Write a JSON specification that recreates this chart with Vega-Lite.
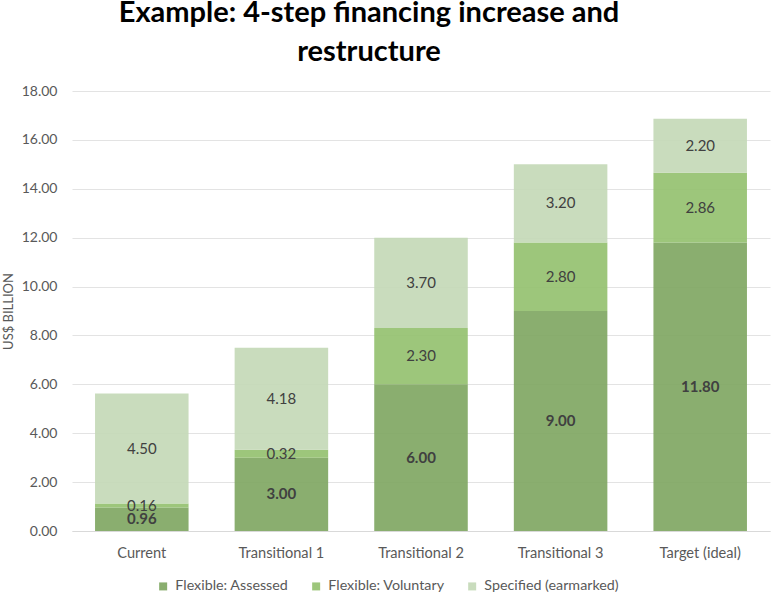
{
  "$schema": "https://vega.github.io/schema/vega-lite/v6.json",
  "width": 698,
  "height": 440,
  "autosize": {"type": "none"},
  "padding": {"left": 72, "top": 91, "right": 8, "bottom": 63},
  "background": "white",
  "config": {"view": {"stroke": null}},
  "title": {
    "text": ["Example: 4-step financing increase and", "restructure"],
    "font": "Lato",
    "fontSize": 29,
    "fontWeight": "bold",
    "color": "#000000",
    "anchor": "middle",
    "dx": -52,
    "offset": 17,
    "lineHeight": 39
  },
  "data": {
    "values": [
      {"category": "Current", "type": "Flexible: Assessed", "k": 1, "value": 0.96},
      {"category": "Current", "type": "Flexible: Voluntary", "k": 2, "value": 0.16},
      {"category": "Current", "type": "Specified (earmarked)", "k": 3, "value": 4.50},
      {"category": "Transitional 1", "type": "Flexible: Assessed", "k": 1, "value": 3.00},
      {"category": "Transitional 1", "type": "Flexible: Voluntary", "k": 2, "value": 0.32},
      {"category": "Transitional 1", "type": "Specified (earmarked)", "k": 3, "value": 4.18},
      {"category": "Transitional 2", "type": "Flexible: Assessed", "k": 1, "value": 6.00},
      {"category": "Transitional 2", "type": "Flexible: Voluntary", "k": 2, "value": 2.30},
      {"category": "Transitional 2", "type": "Specified (earmarked)", "k": 3, "value": 3.70},
      {"category": "Transitional 3", "type": "Flexible: Assessed", "k": 1, "value": 9.00},
      {"category": "Transitional 3", "type": "Flexible: Voluntary", "k": 2, "value": 2.80},
      {"category": "Transitional 3", "type": "Specified (earmarked)", "k": 3, "value": 3.20},
      {"category": "Target (ideal)", "type": "Flexible: Assessed", "k": 1, "value": 11.80},
      {"category": "Target (ideal)", "type": "Flexible: Voluntary", "k": 2, "value": 2.86},
      {"category": "Target (ideal)", "type": "Specified (earmarked)", "k": 3, "value": 2.20}
    ]
  },
  "encoding": {
    "x": {
      "field": "category",
      "type": "nominal",
      "sort": ["Current", "Transitional 1", "Transitional 2", "Transitional 3", "Target (ideal)"],
      "scale": {"paddingInner": 0.33, "paddingOuter": 0.165},
      "axis": {
        "title": null,
        "labelAngle": 0,
        "labelFont": "Lato",
        "labelFontSize": 14.6,
        "labelColor": "#595959",
        "labelPadding": 14,
        "ticks": false,
        "domainColor": "#d9d9d9",
        "domainWidth": 1
      }
    },
    "y": {
      "field": "value",
      "type": "quantitative",
      "stack": "zero",
      "scale": {"domain": [0, 18], "nice": false},
      "axis": {
        "title": "US$ BILLION",
        "titleFont": "Lato",
        "titleFontSize": 13,
        "titleFontWeight": "normal",
        "titleColor": "#595959",
        "titleX": -64,
        "titleBaseline": "middle",
        "values": [0, 2, 4, 6, 8, 10, 12, 14, 16, 18],
        "format": ".2f",
        "labelFont": "Lato",
        "labelFontSize": 14,
        "labelColor": "#595959",
        "labelPadding": 15,
        "ticks": false,
        "domain": false,
        "gridColor": "#e3e3e3",
        "gridWidth": 1
      }
    },
    "order": {"field": "k", "type": "quantitative"}
  },
  "layer": [
    {
      "mark": {"type": "bar", "opacity": 0.9},
      "encoding": {
        "color": {
          "field": "type",
          "type": "nominal",
          "scale": {
            "domain": ["Flexible: Assessed", "Flexible: Voluntary", "Specified (earmarked)"],
            "range": ["#7DA55F", "#92C06D", "#C3D8B6"]
          },
          "legend": {
            "title": null,
            "orient": "none",
            "direction": "horizontal",
            "legendX": 84,
            "legendY": 488,
            "symbolType": "square",
            "symbolSize": 64,
            "symbolStrokeWidth": 0,
            "labelFont": "Lato",
            "labelFontSize": 14.3,
            "labelColor": "#595959",
            "columnPadding": 20,
            "labelOffset": 5
          }
        }
      }
    },
    {
      "mark": {"type": "text", "font": "Lato", "fontSize": 15, "color": "#404040", "baseline": "middle", "fontWeight": "bold"},
      "encoding": {
        "y": {"field": "value", "type": "quantitative", "stack": "zero", "bandPosition": 0.5},
        "text": {
          "condition": {"test": "datum.k === 1", "field": "value", "type": "quantitative", "format": ".2f"},
          "value": ""
        }
      }
    },
    {
      "mark": {"type": "text", "font": "Lato", "fontSize": 15, "color": "#404040", "baseline": "middle"},
      "encoding": {
        "y": {"field": "value", "type": "quantitative", "stack": "zero", "bandPosition": 0.5},
        "text": {
          "condition": {"test": "datum.k !== 1", "field": "value", "type": "quantitative", "format": ".2f"},
          "value": ""
        }
      }
    }
  ]
}
